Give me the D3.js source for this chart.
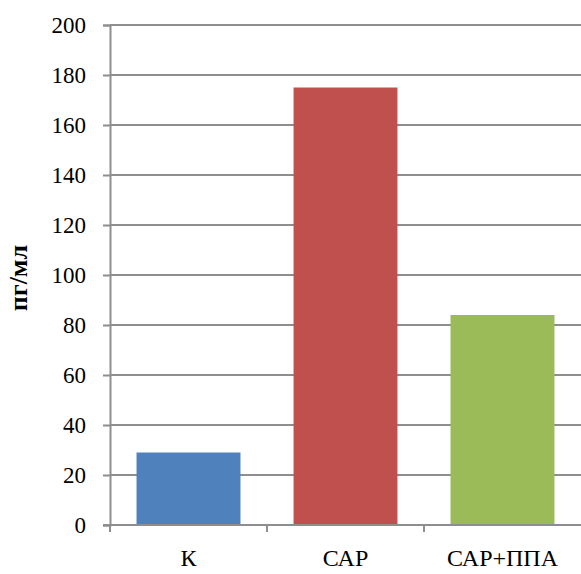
<!DOCTYPE html>
<html>
<head>
<meta charset="utf-8">
<script src="https://cdn.jsdelivr.net/npm/d3@7"></script>
<style>
  html, body { margin: 0; padding: 0; background: #fff; }
  svg { display: block; }
  text { font-family: "Liberation Serif", "Times New Roman", serif; fill: #000; }
</style>
</head>
<body>
<svg id="chart" width="581" height="574"></svg>
<script>
// Categories, values and tick labels
const categories = ["К", "САР", "САР+ППА"];
const values = [29, 175, 84];
const colors = ["#4F81BD", "#C0504D", "#9BBB59"];
const yTicks = [0, 20, 40, 60, 80, 100, 120, 140, 160, 180, 200];
const yLabel = "пг/мл";

const svg = d3.select("#chart");
const margin = { left: 110, right: 0, top: 25, bottom: 49 };
const W = 581, H = 574;

const x = d3.scaleBand()
  .domain(categories)
  .range([margin.left, W - margin.right])
  .paddingInner(0.338)
  .paddingOuter(0.169);

const y = d3.scaleLinear().domain([0, 200]).range([H - margin.bottom, margin.top]);

const grid = "#8e8e8e";

// horizontal gridlines
svg.append("g")
  .selectAll("line")
  .data(yTicks.filter(d => d > 0))
  .join("line")
  .attr("x1", margin.left).attr("x2", W)
  .attr("y1", d => y(d)).attr("y2", d => y(d))
  .attr("stroke", grid).attr("stroke-width", 2);

// bars
svg.append("g")
  .selectAll("rect")
  .data(values)
  .join("rect")
  .attr("x", (d, i) => x(categories[i]))
  .attr("width", x.bandwidth())
  .attr("y", d => y(d))
  .attr("height", d => y(0) - y(d))
  .attr("fill", (d, i) => colors[i]);

// y axis
const yAxis = svg.append("g")
  .attr("transform", `translate(${margin.left},0)`)
  .call(d3.axisLeft(y).tickValues(yTicks).tickSize(7).tickPadding(17));
yAxis.select(".domain").attr("stroke", grid).attr("stroke-width", 2);
yAxis.selectAll(".tick line").attr("stroke", grid).attr("stroke-width", 2);
yAxis.selectAll(".tick text")
  .style("font-family", "'Liberation Serif', serif")
  .style("font-size", "23px")
  .attr("fill", "#000");

// x axis with boundary ticks between categories
const xg = svg.append("g").attr("transform", `translate(0,${y(0)})`);
xg.append("line")
  .attr("x1", margin.left - 7).attr("x2", W)
  .attr("stroke", grid).attr("stroke-width", 2);
xg.selectAll("line.b")
  .data(categories)
  .join("line")
  .attr("class", "b")
  .attr("x1", (d, i) => margin.left + i * (W - margin.left) / categories.length)
  .attr("x2", (d, i) => margin.left + i * (W - margin.left) / categories.length)
  .attr("y1", 0).attr("y2", 7)
  .attr("stroke", grid).attr("stroke-width", 2);
xg.selectAll("text")
  .data(categories)
  .join("text")
  .attr("x", d => x(d) + x.bandwidth() / 2)
  .attr("y", 41)
  .attr("text-anchor", "middle")
  .style("font-size", "24px")
  .text(d => d);

// y axis title
svg.append("text")
  .attr("transform", `translate(27,${(y(0) + y(200)) / 2 + 3}) rotate(-90)`)
  .attr("text-anchor", "middle")
  .style("font-size", "26px")
  .style("font-weight", "bold")
  .text(yLabel);
</script>
</body>
</html>
